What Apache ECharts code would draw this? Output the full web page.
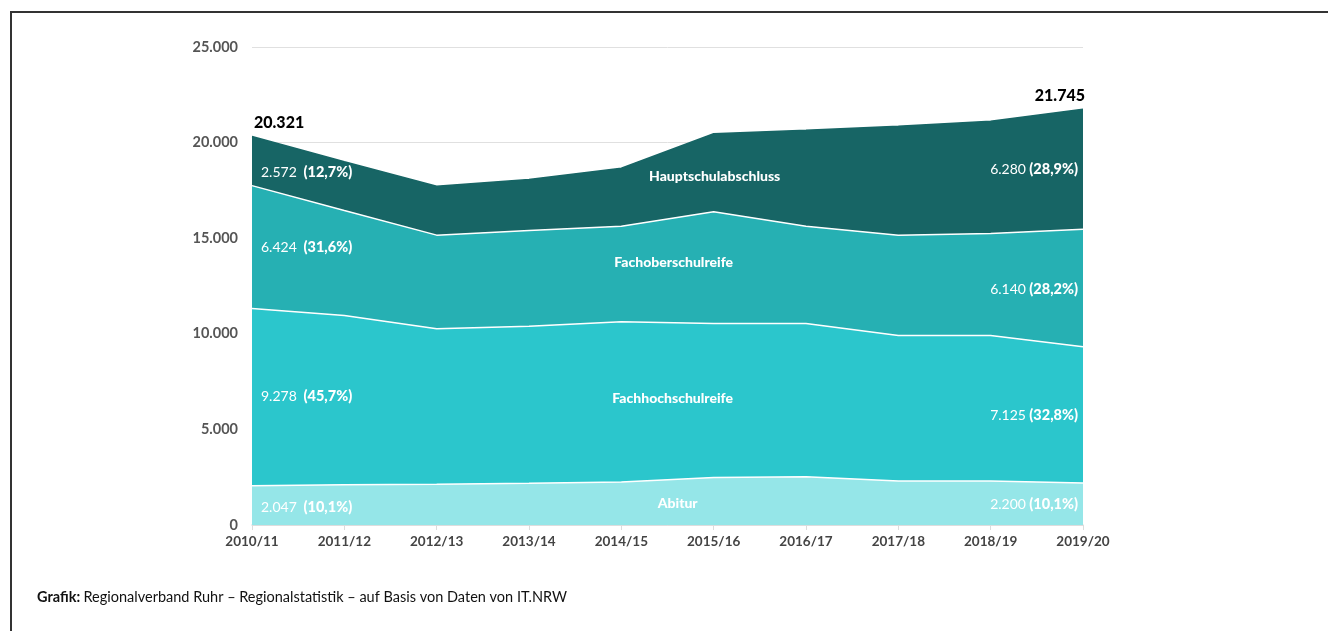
<!DOCTYPE html>
<html>
<head>
<meta charset="utf-8">
<script src="https://cdn.jsdelivr.net/npm/echarts@6/dist/echarts.min.js"></script>
<style>
html,body{margin:0;padding:0;background:#fff;}
#frame{position:absolute;left:10px;top:11px;right:0;bottom:0;border-left:2px solid #333;border-top:2px solid #333;}
#c{position:absolute;left:0;top:0;width:1328px;height:631px;}
</style>
</head>
<body>
<div id="frame"></div>
<div id="c"></div>
<script>
const categories = ['2010/11','2011/12','2012/13','2013/14','2014/15','2015/16','2016/17','2017/18','2018/19','2019/20'];
const abitur = [2047, 2100, 2130, 2180, 2250, 2480, 2530, 2300, 2300, 2200];
const fachhochschulreife = [9278, 8860, 8130, 8220, 8380, 8060, 8010, 7610, 7610, 7125];
const fachoberschulreife = [6424, 5490, 4900, 5000, 5000, 5840, 5090, 5250, 5340, 6140];
const hauptschulabschluss = [2572, 2550, 2560, 2670, 3030, 4080, 5020, 5700, 5870, 6280];
const seriesNames = ['Abitur', 'Fachhochschulreife', 'Fachoberschulreife', 'Hauptschulabschluss'];
const startShares = ['10,1%', '45,7%', '31,6%', '12,7%'];
const endShares = ['10,1%', '32,8%', '28,2%', '28,9%'];
const totalsShown = ['20.321', '21.745'];
const yTicks = [0, 5000, 10000, 15000, 20000, 25000];

const FONT = 'Lato, "Open Sans", sans-serif';
const colors = ['#95e6e8', '#2bc6cc', '#26b0b3', '#176565'];
const fmt = v => String(v).replace(/\B(?=(\d{3})+(?!\d))/g, '.');

const data = [abitur, fachhochschulreife, fachoberschulreife, hauptschulabschluss];

const chart = echarts.init(document.getElementById('c'), null, {renderer: 'canvas'});
chart.setOption({
  animation: false,
  backgroundColor: 'transparent',
  grid: {left: 252, right: 245, top: 47, bottom: 106, containLabel: false},
  xAxis: {
    type: 'category', data: categories, boundaryGap: false,
    axisLine: {lineStyle: {color: '#dcdcdc', width: 1.5}},
    axisTick: {show: true, length: 5, lineStyle: {color: '#dcdcdc'}},
    axisLabel: {color: '#444', fontFamily: FONT, fontWeight: 'bold', fontSize: 13.5, margin: 10, showMinLabel: true, showMaxLabel: true}
  },
  yAxis: {
    type: 'value', min: yTicks[0], max: yTicks[yTicks.length - 1], interval: 5000,
    axisLine: {show: false}, axisTick: {show: false},
    splitLine: {lineStyle: {color: '#e0e0e0', width: 1}},
    axisLabel: {color: '#555', fontFamily: FONT, fontWeight: 'bold', fontSize: 14.5, margin: 14, formatter: v => fmt(v)}
  },
  series: data.map((d, i) => ({
    name: seriesNames[i], type: 'line', stack: 'total', data: d,
    showSymbol: false, symbol: 'none',
    lineStyle: {color: i === 3 ? colors[3] : '#ffffff', width: 1.5},
    areaStyle: {color: colors[i], opacity: 1},
    z: 2 + (3 - i)
  }))
});

const px = (i, v) => chart.convertToPixel({gridIndex: 0}, [i, v]);
const cum = (k, idx) => data.slice(0, k + 1).reduce((s, arr) => s + arr[idx], 0);
const last = categories.length - 1;
const g = [];
const rich = {
  n: {fill: '#fff', fontFamily: FONT, fontSize: 14, fontWeight: 'normal'},
  p: {fill: '#fff', fontFamily: FONT, fontSize: 14.5, fontWeight: 900}
};
// label anchor values (in data units) for each band
const leftY = [920, 6720, 14510, 18440];
const rightY = [1070, 5730, 12320, 18590];
const nameY = [1120, 6620, 13730, 18230];
const nameDX = [-36, -41, -40, 1];
for (let k = 0; k < 4; k++) {
  const pl = px(0, leftY[k]);
  g.push({type: 'text', z: 100, x: pl[0] + 9, y: pl[1], style: {
    text: '{n|' + fmt(data[k][0]) + '}  {p|(' + startShares[k] + ')}', rich, verticalAlign: 'middle', align: 'left'}});
  const pr = px(last, rightY[k]);
  g.push({type: 'text', z: 100, x: pr[0] - 5, y: pr[1], style: {
    text: '{n|' + fmt(data[k][last]) + '} {p|(' + endShares[k] + ')}', rich, verticalAlign: 'middle', align: 'right'}});
  const pn = px(5, nameY[k]);
  g.push({type: 'text', z: 100, x: pn[0] + nameDX[k], y: pn[1], style: {
    text: seriesNames[k], fill: '#fff', fontFamily: FONT, fontSize: 14, fontWeight: 900, align: 'center', verticalAlign: 'middle'}});
}
const t0 = px(0, cum(3, 0));
g.push({type: 'text', z: 100, x: t0[0] + 2, y: t0[1] - 14, style: {text: totalsShown[0], fill: '#000', fontFamily: FONT, fontSize: 16, fontWeight: 900, align: 'left', verticalAlign: 'middle'}});
const t1 = px(last, cum(3, last));
g.push({type: 'text', z: 100, x: t1[0] + 2, y: t1[1] - 13, style: {text: totalsShown[1], fill: '#000', fontFamily: FONT, fontSize: 16, fontWeight: 900, align: 'right', verticalAlign: 'middle'}});
g.push({type: 'text', z: 100, left: 37, top: 590, style: {
  text: '{b|Grafik:} {r|Regionalverband Ruhr – Regionalstatistik – auf Basis von Daten von IT.NRW}',
  rich: {b: {fill: '#111', fontFamily: FONT, fontSize: 14.5, fontWeight: 'bold'}, r: {fill: '#111', fontFamily: FONT, fontSize: 14.5}}}});
chart.setOption({graphic: g});
</script>
</body>
</html>
